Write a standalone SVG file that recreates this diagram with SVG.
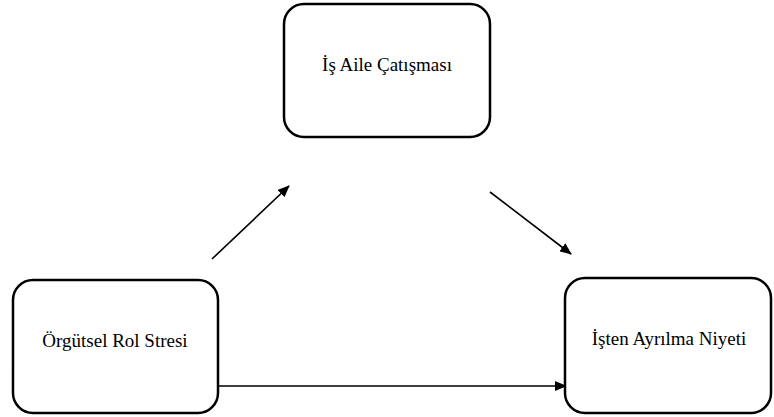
<svg xmlns="http://www.w3.org/2000/svg" width="774" height="417" viewBox="0 0 774 417">
<defs>
<marker id="ah" markerWidth="12" markerHeight="10" refX="11" refY="5" orient="auto" markerUnits="userSpaceOnUse">
<path d="M0,0 L12,5 L0,10 Z" fill="#000"/>
</marker>
<style>
.box{fill:#fff;stroke:#000;stroke-width:2.5}
.lbl{font-family:"Liberation Serif","DejaVu Serif",serif;font-size:19px;fill:#000;text-anchor:middle}
.con{stroke:#000;stroke-width:1.6;fill:none;marker-end:url(#ah)}
</style>
</defs>
<rect width="774" height="417" fill="#fff"/>
<g id="connectors">
<line class="con" x1="212" y1="259" x2="289" y2="186"/>
<line class="con" x1="490" y1="192" x2="571" y2="254"/>
<line class="con" x1="218" y1="386" x2="566" y2="386"/>
</g>
<g id="node-is-aile">
<rect class="box" x="284" y="4" width="206" height="133" rx="20"/>
<text class="lbl" x="387" y="71">İş Aile Çatışması</text>
</g>
<g id="node-orgutsel">
<rect class="box" x="13" y="280" width="205" height="133" rx="20"/>
<text class="lbl" x="115" y="347">Örgütsel Rol Stresi</text>
</g>
<g id="node-isten">
<rect class="box" x="565" y="278" width="206" height="135" rx="20"/>
<text class="lbl" x="669" y="345">İşten Ayrılma Niyeti</text>
</g>
</svg>
